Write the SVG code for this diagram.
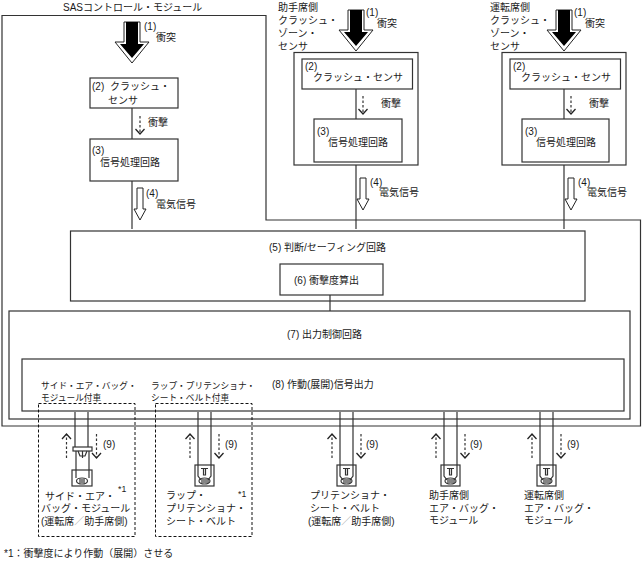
<svg xmlns="http://www.w3.org/2000/svg" width="642" height="563" viewBox="0 0 642 563">
<style>
text{font-family:"Liberation Sans","Noto Sans CJK JP",sans-serif;font-size:10px;fill:#1a1a1a}
.s{font-size:8.7px}
.b{fill:#fff;stroke:#333;stroke-width:1.2}
.l{fill:none;stroke:#333;stroke-width:1.2}
.d{fill:none;stroke:#333;stroke-width:1.2;stroke-dasharray:2.500 2;marker-end:url(#v)}
.box{fill:none;stroke:#111;stroke-width:1;stroke-dasharray:3 2}
.o{fill:#fff;stroke:#222;stroke-width:1}
.k{fill:#000}
.g{fill:#999}
</style>
<defs>
<marker id="v" markerUnits="userSpaceOnUse" markerWidth="12" markerHeight="12" refX="7" refY="6" orient="auto" viewBox="0 0 12 12"><path d="M2,1.500 L7,6 L2,10.500" fill="none" stroke="#222" stroke-width="1.300"/></marker>
<g id="big"><path class="o" d="M-8,0H8V20H17L0,41L-17,20H-8Z"/><path class="k" d="M-6,0H6V22H12L0,36L-12,22H-6Z"/></g>
<g id="hollow"><path class="o" d="M-3,0H3V21H6L0,32L-6,21H-3Z"/></g>
<g id="squib"><rect class="b" x="0" y="0" width="19" height="21" stroke="#111"/><path class="l" stroke-width="1" d="M3,0V11L6,15M16,0V11L13,15M6,3.500H13M8.500,3.500V10H10.500V3.500"/><ellipse class="l" cx="9.500" cy="16" rx="5.500" ry="3"/><path class="l" stroke-width="0.800" d="M7,14V18M9,14V18M11,14V18M13,14V18"/></g>
</defs>

<g id="connectors">
<path class="l" d="M132,108V139M132,181V229M356,89V119M356,165V229M564,89V119M564,165V229M330,295V311"/>
<path class="l" d="M75,412V450M88,412V450M198,412V465M211,412V465M340,412V465M353,412V465M444,412V465M457,412V465M540,412V465M553,412V465"/>
<path class="d" d="M140,116V134"/>
<path class="d" d="M66.500,458V434"/><path class="d" d="M96.500,434V458"/>
<path class="d" d="M190,458V434"/><path class="d" d="M219,434V458"/>
<path class="d" d="M332,458V434"/><path class="d" d="M361,434V458"/>
<path class="d" d="M436,458V434"/><path class="d" d="M465,434V458"/>
<path class="d" d="M532,458V434"/><path class="d" d="M561,434V458"/>
<use href="#hollow" x="140" y="188"/><use href="#hollow" x="363" y="178"/><use href="#hollow" x="571" y="178"/>
</g>

<g id="sas-module"><path class="l" d="M2,15.500H266V220H640.500V426H2Z"/><text x="63" y="10.500">SASコントロール・モジュール</text></g>

<g id="impact-1"><use href="#big" x="132" y="22"/><text x="144" y="30">(1)</text><text x="156" y="41">衝突</text></g>
<g id="sensor-1"><rect class="b" x="90" y="78" width="88" height="30"/><text x="92" y="90">(2)</text><text x="110" y="90">クラッシュ・</text><text x="108" y="104">センサ</text></g>
<text x="148" y="126">衝撃</text>
<g id="proc-1"><rect class="b" x="90" y="139" width="88" height="42"/><text x="92" y="154">(3)</text><text x="100" y="166">信号処理回路</text></g>
<text x="146" y="197">(4)</text><text x="156" y="208">電気信号</text>

<g id="zone-right"><text x="278" y="11">助手席側</text><text x="278" y="24">クラッシュ・</text><text x="278" y="37">ゾーン・</text><text x="278" y="50">センサ</text>
<rect class="b" x="294" y="52.500" width="124" height="112.500"/>
<use href="#big" x="356" y="10"/><text x="366" y="16">(1)</text><text x="377" y="27">衝突</text>
<rect class="b" x="302" y="59" width="110.500" height="30"/><text x="305" y="70">(2)</text><text x="313" y="81">クラッシュ・センサ</text>
<rect class="b" x="314" y="119" width="88" height="43"/><text x="317" y="135">(3)</text><text x="328" y="146">信号処理回路</text>
<path class="l" d="M356,89V119"/><path class="d" d="M363,96V114"/><text x="381" y="107">衝撃</text>
<text x="370" y="186">(4)</text><text x="379" y="196">電気信号</text></g>

<g id="zone-left"><text x="490" y="11">運転席側</text><text x="490" y="24">クラッシュ・</text><text x="490" y="37">ゾーン・</text><text x="490" y="50">センサ</text>
<rect class="b" x="502" y="52.500" width="124" height="112.500"/>
<use href="#big" x="564" y="10"/><text x="574" y="16">(1)</text><text x="585" y="27">衝突</text>
<rect class="b" x="510" y="59" width="110.500" height="30"/><text x="513" y="70">(2)</text><text x="521" y="81">クラッシュ・センサ</text>
<rect class="b" x="522" y="119" width="87" height="43"/><text x="525" y="135">(3)</text><text x="536" y="146">信号処理回路</text>
<path class="l" d="M564,89V119"/><path class="d" d="M571,96V114"/><text x="589" y="107">衝撃</text>
<text x="578" y="186">(4)</text><text x="587" y="196">電気信号</text></g>

<g id="judge"><rect class="l" x="70.500" y="231" width="514.500" height="70"/><text x="269" y="251">(5) 判断/セーフィング回路</text></g>
<g id="severity"><rect class="b" x="280" y="264" width="103" height="31"/><text x="294" y="284">(6) 衝撃度算出</text></g>
<g id="output-ctrl"><rect class="l" x="9" y="311" width="621" height="108"/><text x="287" y="338">(7) 出力制御回路</text></g>
<g id="signal-out"><rect class="l" x="22" y="359" width="602" height="52"/><text x="272" y="388">(8) 作動(展開)信号出力</text></g>

<g id="side-module">
<text class="s" x="41" y="389">サイド・エア・バッグ・</text><text class="s" x="41" y="401">モジュール付車</text>
<rect class="box" x="38.500" y="403.500" width="96.500" height="133"/>
<rect class="b" x="73" y="447" width="19" height="4"/>
<path class="l" stroke-width="1" d="M78,451L80,456H85L87,451M82.500,451V458M76,451V470M89,451V470"/>
<rect class="l" x="72" y="470" width="20" height="16" stroke="#111"/>
<path class="l" stroke-width="1" d="M76,470V478M89,470V478"/>
<ellipse class="l" cx="82" cy="481" rx="5.500" ry="3"/><path class="l" stroke-width="0.800" d="M80,479V483M82,479V483M84,479V483"/>
<text x="103" y="448">(9)</text>
<text x="45" y="500">サイド・エア・</text><text x="41" y="512">バッグ・モジュール</text><text x="41" y="525">(運転席<tspan class="g">／</tspan>助手席側)</text><text class="s" x="118" y="492">*1</text>
</g>

<g id="lap-module">
<text class="s" x="151" y="389">ラップ・プリテンショナ・</text><text class="s" x="151" y="401">シート・ベルト付車</text>
<rect class="box" x="155.500" y="403.500" width="96.500" height="133"/>
<use href="#squib" x="195" y="465"/><text x="225" y="448">(9)</text>
<text x="166" y="499">ラップ・</text><text x="166" y="512">プリテンショナ・</text><text x="166" y="525">シート・ベルト</text><text class="s" x="238" y="497">*1</text>
</g>

<g id="pretensioner"><use href="#squib" x="337" y="465"/><text x="366" y="448">(9)</text>
<text x="310" y="499">プリテンショナ・</text><text x="310" y="512">シート・ベルト</text><text x="308" y="525">(運転席<tspan class="g">／</tspan>助手席側)</text></g>
<g id="passenger-bag"><use href="#squib" x="441" y="465"/><text x="470" y="448">(9)</text>
<text x="429" y="499">助手席側</text><text x="429" y="512">エア・バッグ・</text><text x="429" y="524">モジュール</text></g>
<g id="driver-bag"><use href="#squib" x="537" y="465"/><text x="567" y="448">(9)</text>
<text x="524" y="499">運転席側</text><text x="524" y="512">エア・バッグ・</text><text x="524" y="524">モジュール</text></g>

<text x="4" y="557">*1：衝撃度により作動（展開）させる</text>
</svg>
